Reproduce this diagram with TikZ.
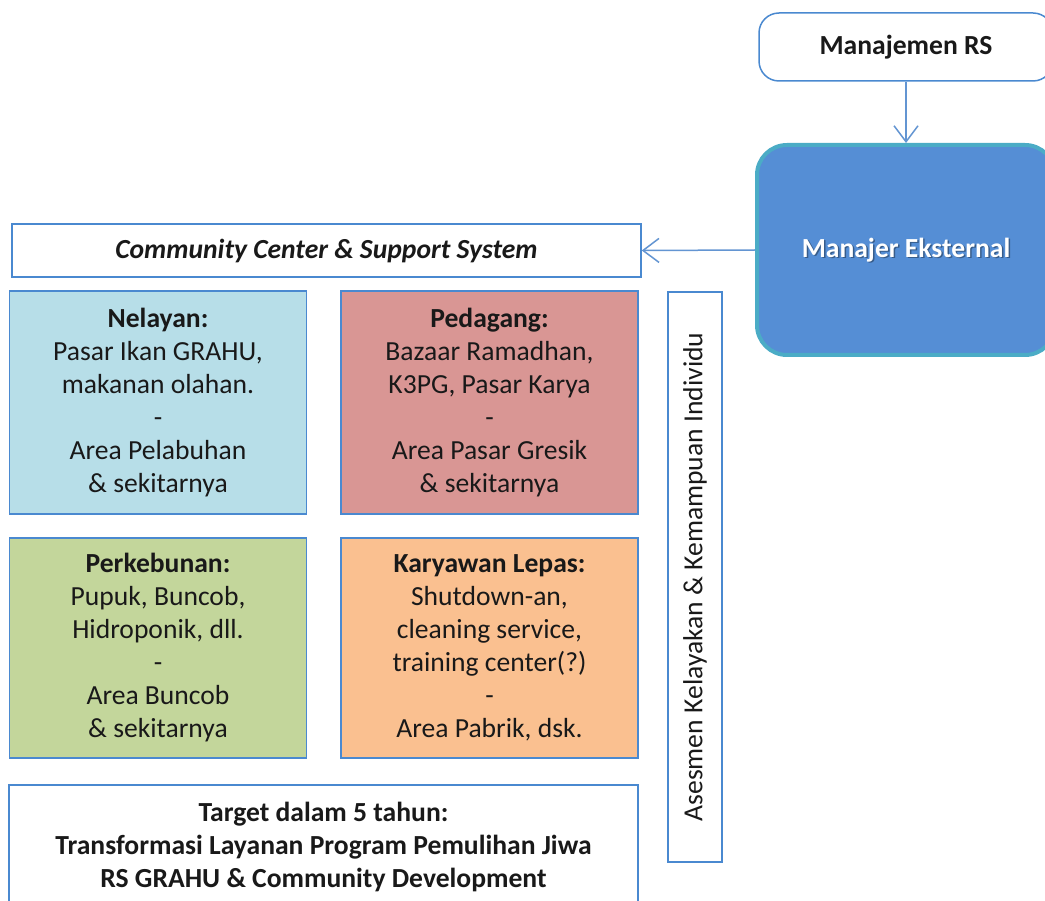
\documentclass[tikz,border=0pt]{standalone}
\usepackage{fontspec}
\setmainfont{Carlito}
\usetikzlibrary{arrows.meta}
\definecolor{bordblue}{HTML}{4A89D0}
\definecolor{arrblue}{HTML}{6395D2}
\definecolor{mexfill}{HTML}{558ED5}
\definecolor{mexbord}{HTML}{4BACC6}
\definecolor{nelfill}{HTML}{B7DEE8}
\definecolor{pedfill}{HTML}{D99694}
\definecolor{perfill}{HTML}{C3D69B}
\definecolor{karfill}{HTML}{FAC090}
\tikzset{
  box/.style={draw=bordblue, line width=1.5pt, inner sep=0pt, align=center,
    font=\fontsize{27.6}{33}\selectfont, text=black!90},
  catbox/.style={box, minimum width=297pt},
  conn/.style={draw=arrblue, line width=1.5pt, -{Straight Barb[length=16pt,width=24pt,line width=1.5pt]}},
}
\begin{document}
\begin{tikzpicture}[x=1pt,y=-1pt]
\useasboundingbox (0,0) rectangle (1045,901);
\fill[white] (0,0) rectangle (1045,901);
\node[box, rounded corners=20pt, minimum width=294pt, minimum height=68pt, fill=white] (mrs) at (906,47) {\textbf{Manajemen RS}};
\node[draw=mexbord, line width=4pt, fill=mexfill, rounded corners=30pt, minimum width=298pt, minimum height=210pt] (mex) at (906,250) {};
\node[font=\fontsize{27.6}{33}\selectfont\bfseries, text=black, opacity=0.35] at (907.5,251.5) {Manajer Eksternal};
\node[font=\fontsize{27.6}{33}\selectfont\bfseries, text=white] (mexl) at (906,250) {Manajer Eksternal};
\node[box, minimum width=629pt, minimum height=53pt] (comm) at (326.5,250.5) {\textbf{\itshape Community Center \& Support System}};
\node[catbox, fill=nelfill, minimum height=223pt] (nel) at (158,402.5) {\textbf{Nelayan:}\\Pasar Ikan GRAHU,\\makanan olahan.\\-\\Area Pelabuhan\\\& sekitarnya};
\node[catbox, fill=pedfill, minimum height=223pt] (ped) at (489.5,402.5) {\textbf{Pedagang:}\\Bazaar Ramadhan,\\K3PG, Pasar Karya\\-\\Area Pasar Gresik\\\& sekitarnya};
\node[catbox, fill=perfill, minimum height=220pt] (per) at (158,648) {\textbf{Perkebunan:}\\Pupuk, Buncob,\\Hidroponik, dll.\\-\\Area Buncob\\\& sekitarnya};
\node[catbox, fill=karfill, minimum height=220pt] (kar) at (489.5,648) {\textbf{Karyawan Lepas:}\\Shutdown-an,\\cleaning service,\\training center(?)\\-\\Area Pabrik, dsk.};
\node[box, minimum width=629pt, minimum height=124pt, font=\fontsize{27.6}{33}\selectfont\bfseries] (tgt) at (323.5,847) {Target dalam 5 tahun:\\Transformasi Layanan Program Pemulihan Jiwa\\RS GRAHU \& Community Development};
\node[box, minimum width=54pt, minimum height=570pt] (ases) at (695,577) {};
\node[font=\fontsize{27.6}{33}\selectfont, text=black!90, rotate=90] (asesl) at (ases.center) {Asesmen Kelayakan \& Kemampuan Individu};
\draw[conn] (mrs.south) -- (mex.north);
\draw[conn] (mex.west) -- (comm.east);
\end{tikzpicture}
\end{document}
